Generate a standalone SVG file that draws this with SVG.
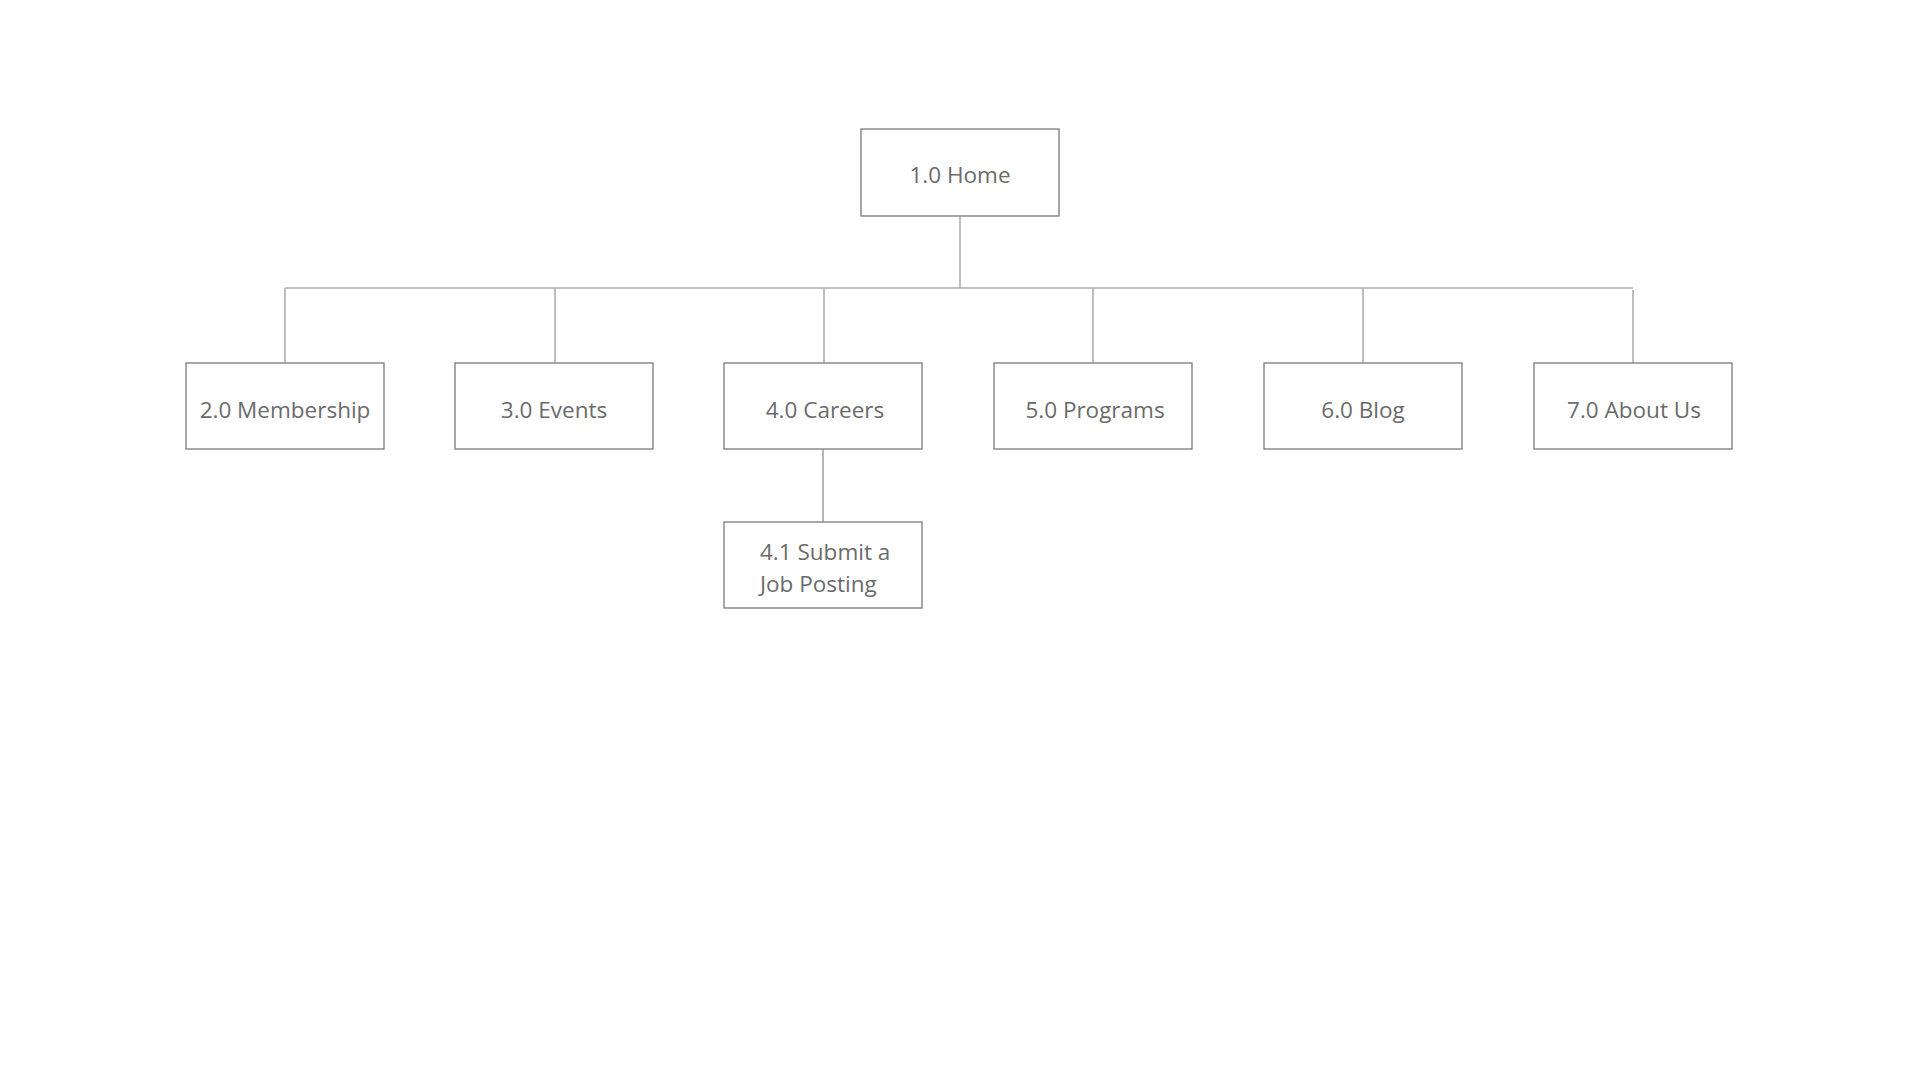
<svg xmlns="http://www.w3.org/2000/svg" width="1920" height="1080" viewBox="0 0 1920 1080">
<style>
.box{fill:#ffffff;stroke:#7a7a7a;stroke-width:1.3}
.lbl{font-family:"Open Sans","Noto Sans","Liberation Sans",sans-serif;font-size:22.5px;fill:#6b6b6b;text-anchor:middle}
.lbl2{font-family:"Open Sans","Noto Sans","Liberation Sans",sans-serif;font-size:22.5px;fill:#6b6b6b}
.v{stroke:#a8a8a8;stroke-width:1.5;fill:none}
.h{stroke:#858585;stroke-width:1.2;fill:none}
</style>
<rect x="0" y="0" width="1920" height="1080" fill="#ffffff"/>
<g id="connectors">
<line class="v" x1="960" y1="216" x2="960" y2="288"/>
<line class="h" x1="285" y1="288" x2="1633" y2="288"/>
<line class="v" x1="285" y1="288" x2="285" y2="363"/>
<line class="v" x1="555" y1="288" x2="555" y2="363"/>
<line class="v" x1="824" y1="288" x2="824" y2="363"/>
<line class="v" x1="1093" y1="288" x2="1093" y2="363"/>
<line class="v" x1="1363" y1="288" x2="1363" y2="363"/>
<line class="v" x1="1633" y1="290" x2="1633" y2="363"/>
<line class="h" x1="823" y1="449" x2="823" y2="522"/>
</g>
<g id="n1"><rect class="box" x="861" y="129" width="198" height="87"/><text class="lbl" x="960" y="183">1.0 Home</text></g>
<g id="n2"><rect class="box" x="186" y="363" width="198" height="86"/><text class="lbl" x="285" y="418">2.0 Membership</text></g>
<g id="n3"><rect class="box" x="455" y="363" width="198" height="86"/><text class="lbl" x="554" y="418">3.0 Events</text></g>
<g id="n4"><rect class="box" x="724" y="363" width="198" height="86"/><text class="lbl" x="825" y="418">4.0 Careers</text></g>
<g id="n5"><rect class="box" x="994" y="363" width="198" height="86"/><text class="lbl" x="1095" y="418">5.0 Programs</text></g>
<g id="n6"><rect class="box" x="1264" y="363" width="198" height="86"/><text class="lbl" x="1363" y="418">6.0 Blog</text></g>
<g id="n7"><rect class="box" x="1534" y="363" width="198" height="86"/><text class="lbl" x="1634" y="418">7.0 About Us</text></g>
<g id="n41"><rect class="box" x="724" y="522" width="198" height="86"/><text class="lbl2" x="760" y="560">4.1 Submit a</text><text class="lbl2" x="760" y="592">Job Posting</text></g>
</svg>
